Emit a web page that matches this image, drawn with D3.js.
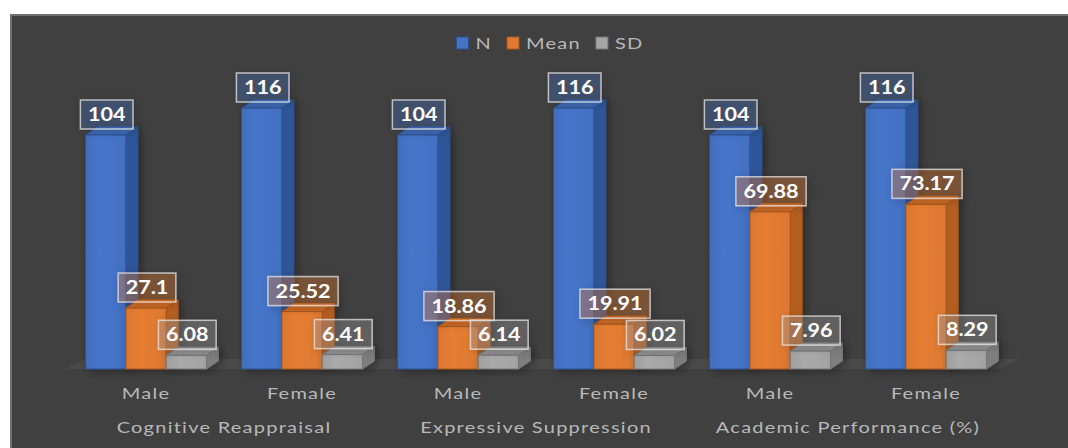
<!DOCTYPE html>
<html>
<head>
<meta charset="utf-8">
<script src="https://cdn.jsdelivr.net/npm/d3@7/dist/d3.min.js"></script>
<style>
  html, body { margin: 0; padding: 0; background: #ffffff; }
  svg { display: block; }
</style>
</head>
<body>
<svg id="chart" width="1068" height="448"></svg>
<script>
// ---- data ----
const categories = ["Male", "Female", "Male", "Female", "Male", "Female"];
const groups = ["Cognitive Reappraisal", "Expressive Suppression", "Academic Performance (%)"];
const seriesNames = ["N", "Mean", "SD"];
const nValues = [104, 116, 104, 116, 104, 116];
const meanValues = [27.1, 25.52, 18.86, 19.91, 69.88, 73.17];
const sdValues = [6.08, 6.41, 6.14, 6.02, 7.96, 8.29];
const seriesValues = [nValues, meanValues, sdValues];

// ---- styles ----
const colors = {
  N:    { front: "#4472C4", side: "#2F5597", top: "#3E68B4", stroke: "#2F528F", label: "rgba(68,114,196,0.30)" },
  Mean: { front: "#E07A32", side: "#B35E22", top: "#C96A28", stroke: "#A8561C", label: "rgba(237,125,49,0.30)" },
  SD:   { front: "#A5A5A5", side: "#7E7E7E", top: "#909090", stroke: "#767676", label: "rgba(165,165,165,0.30)" }
};
const textColor = "#B8B8B8";
const SX = 1.2;   // horizontal stretch of label text
const SXA = 1.25; // horizontal stretch of axis / legend text
const depth = { dx: 12, dy: -8 };
const floorDepth = { dx: 19, dy: -10 };

const svg = d3.select("#chart");
const W = 1068, H = 448;

// background
svg.append("rect").attr("x", 0).attr("y", 0).attr("width", W).attr("height", H).attr("fill", "#ffffff");
svg.append("rect").attr("x", 11).attr("y", 15).attr("width", W).attr("height", H)
  .attr("fill", "#404040").attr("stroke", "#707070").attr("stroke-width", 2);

const defs = svg.append("defs");
const sh = defs.append("filter").attr("id", "shadow").attr("x", "-30%").attr("y", "-30%").attr("width", "160%").attr("height", "160%");
sh.append("feDropShadow").attr("dx", 3).attr("dy", 2).attr("stdDeviation", 4)
  .attr("flood-color", "#000").attr("flood-opacity", 0.35);

// gradients for front faces
Object.entries(colors).forEach(([k, c]) => {
  const g = defs.append("linearGradient").attr("id", "grad-" + k).attr("x1", "0").attr("x2", "1").attr("y1", "0").attr("y2", "0");
  const base = d3.color(c.front);
  g.append("stop").attr("offset", "0%").attr("stop-color", base.darker(0.1));
  g.append("stop").attr("offset", "35%").attr("stop-color", base.brighter(0.08));
  g.append("stop").attr("offset", "100%").attr("stop-color", base.darker(0.05));
});

// scales
const x = d3.scaleBand().domain(d3.range(categories.length)).range([68, 1004])
  .paddingInner(0.225).paddingOuter(0.1125);
const xs = d3.scaleBand().domain(seriesNames).range([0, x.bandwidth()]).padding(0);
const y = d3.scaleLinear().domain([0, 140]).range([369, 54]);

// floor
const fx0 = 66, fx1 = 1000, fy = y(0);
svg.append("polygon")
  .attr("points", [[fx0, fy], [fx0 + floorDepth.dx, fy + floorDepth.dy], [fx1 + floorDepth.dx, fy + floorDepth.dy], [fx1, fy]].map(p => p.join(",")).join(" "))
  .attr("fill", "#4A4A4A");

// bars
const barLayer = svg.append("g");
categories.forEach((cat, i) => {
  seriesNames.forEach((s, si) => {
    const v = seriesValues[si][i];
    const c = colors[s];
    const x0 = x(i) + xs(s), w = xs.bandwidth();
    const y0 = y(v), b = y(0);
    const g = barLayer.append("g").attr("filter", "url(#shadow)");
    g.append("polygon")
      .attr("points", [[x0 + w, y0], [x0 + w + depth.dx, y0 + depth.dy], [x0 + w + depth.dx, b + depth.dy], [x0 + w, b]].map(p => p.join(",")).join(" "))
      .attr("fill", c.side).attr("stroke", c.stroke).attr("stroke-width", 1).attr("stroke-linejoin", "round");
    g.append("polygon")
      .attr("points", [[x0, y0], [x0 + depth.dx, y0 + depth.dy], [x0 + w + depth.dx, y0 + depth.dy], [x0 + w, y0]].map(p => p.join(",")).join(" "))
      .attr("fill", c.top).attr("stroke", c.stroke).attr("stroke-width", 1).attr("stroke-linejoin", "round");
    g.append("rect").attr("x", x0).attr("y", y0).attr("width", w).attr("height", b - y0)
      .attr("fill", "url(#grad-" + s + ")").attr("stroke", c.stroke).attr("stroke-width", 1);
  });
});

// data labels
const labelLayer = svg.append("g");
categories.forEach((cat, i) => {
  seriesNames.forEach((s, si) => {
    const v = seriesValues[si][i];
    const cx = x(i) + xs(s) + xs.bandwidth() / 2 + 1;
    const cy = y(v) - 20.5;
    const g = labelLayer.append("g").attr("transform", `translate(${cx},${cy})`);
    const rect = g.append("rect");
    const t = g.append("text").text(String(v))
      .attr("text-anchor", "middle").attr("dy", "0.36em")
      .attr("transform", `scale(${SX},1)`)
      .attr("font-family", "Lato, 'DejaVu Sans', sans-serif").attr("font-weight", "bold")
      .attr("font-size", 18).attr("fill", "#ffffff");
    const tw = t.node().getComputedTextLength() * SX;
    const bw = tw + 15, bh = 29;
    rect.attr("x", -bw / 2).attr("y", -bh / 2).attr("width", bw).attr("height", bh)
      .attr("fill", colors[s].label).attr("stroke", "rgba(230,230,230,0.75)").attr("stroke-width", 1.5)
      .attr("filter", "url(#shadow)");
  });
});

// category labels
const axisFont = (sel) => sel.attr("font-family", "Lato, sans-serif").attr("font-size", 16)
  .attr("letter-spacing", 1).attr("fill", textColor);
const axisLayer = svg.append("g");
categories.forEach((cat, i) => {
  axisLayer.append("g").attr("transform", `translate(${x(i) + x.bandwidth() / 2},399)`)
    .append("text").text(cat).attr("text-anchor", "middle")
    .attr("transform", `scale(${SXA},1)`).call(axisFont);
});
groups.forEach((gname, gi) => {
  const c0 = x(gi * 2) + x.bandwidth() / 2, c1 = x(gi * 2 + 1) + x.bandwidth() / 2;
  axisLayer.append("g").attr("transform", `translate(${(c0 + c1) / 2},433)`)
    .append("text").text(gname).attr("text-anchor", "middle")
    .attr("transform", `scale(${SXA},1)`).call(axisFont);
});

// legend
const legend = svg.append("g");
let lx = 0;
seriesNames.forEach((s) => {
  const g = legend.append("g");
  g.append("rect").attr("x", 0).attr("y", -6).attr("width", 12).attr("height", 12)
    .attr("fill", colors[s].front).attr("stroke", colors[s].stroke).attr("stroke-width", 1);
  const t = g.append("g").attr("transform", "translate(19,0)").append("text").text(s)
    .attr("dy", "0.35em").attr("transform", `scale(${SXA},1)`).call(axisFont);
  const tw = t.node().getComputedTextLength() * SXA;
  g.attr("transform", `translate(${lx},0)`);
  lx += 19 + tw + 15;
});
const legendW = lx - 15;
legend.attr("transform", `translate(${550 - legendW / 2},43)`);
</script>
</body>
</html>
